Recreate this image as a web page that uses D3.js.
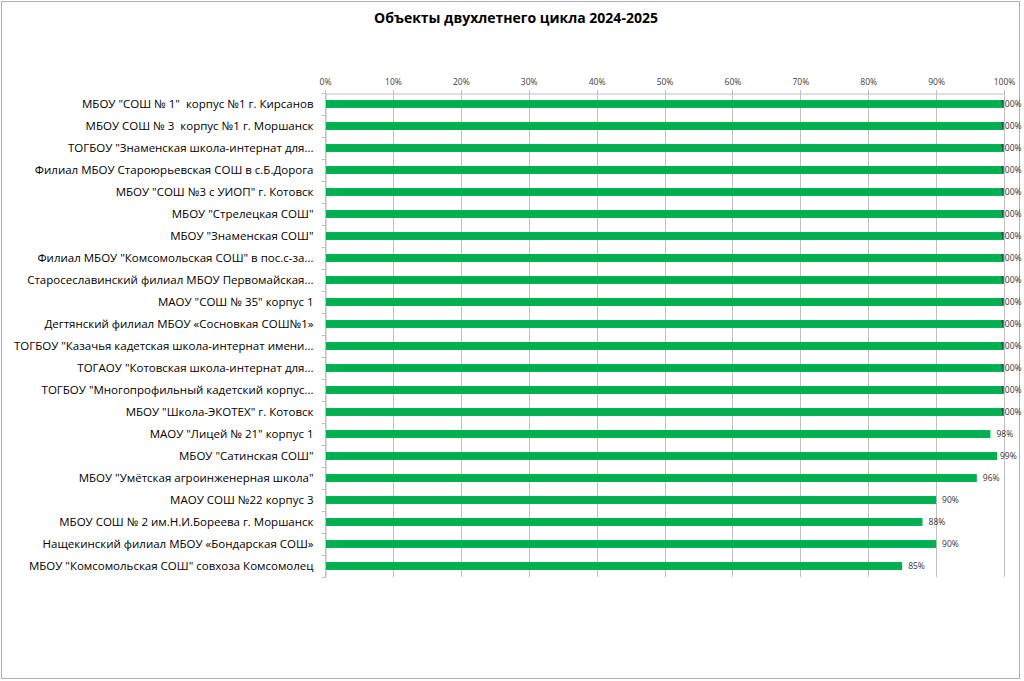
<!DOCTYPE html>
<html>
<head>
<meta charset="utf-8">
<script src="https://cdn.jsdelivr.net/npm/d3@7"></script>
<style>
  html, body { margin: 0; padding: 0; background: #fff; }
  svg { display: block; }
  svg text { white-space: pre; }
</style>
</head>
<body>
<div id="chart"></div>
<script>
// Chart data
const categories = [
    'МБОУ "СОШ № 1"  корпус №1 г. Кирсанов',
    'МБОУ СОШ № 3  корпус №1 г. Моршанск',
    'ТОГБОУ "Знаменская школа-интернат для...',
    'Филиал МБОУ Староюрьевская СОШ в с.Б.Дорога',
    'МБОУ "СОШ №3 с УИОП" г. Котовск',
    'МБОУ "Стрелецкая СОШ"',
    'МБОУ "Знаменская СОШ"',
    'Филиал МБОУ "Комсомольская СОШ" в пос.с-за...',
    'Старосеславинский филиал МБОУ Первомайская...',
    'МАОУ "СОШ № 35" корпус 1',
    'Дегтянский филиал МБОУ «Сосновкая СОШ№1»',
    'ТОГБОУ "Казачья кадетская школа-интернат имени...',
    'ТОГАОУ "Котовская школа-интернат для...',
    'ТОГБОУ "Многопрофильный кадетский корпус...',
    'МБОУ "Школа-ЭКОТЕХ" г. Котовск',
    'МАОУ "Лицей № 21" корпус 1',
    'МБОУ "Сатинская СОШ"',
    'МБОУ "Умётская агроинженерная школа"',
    'МАОУ СОШ №22 корпус 3',
    'МБОУ СОШ № 2 им.Н.И.Бореева г. Моршанск',
    'Нащекинский филиал МБОУ «Бондарская СОШ»',
    'МБОУ "Комсомольская СОШ" совхоза Комсомолец'
];
const values = [1, 1, 1, 1, 1, 1, 1, 1, 1, 1, 1, 1, 1, 1, 1, 0.98, 0.99, 0.96, 0.90, 0.88, 0.90, 0.85];
const xTicks = [0, 0.1, 0.2, 0.3, 0.4, 0.5, 0.6, 0.7, 0.8, 0.9, 1];
const title = 'Объекты двухлетнего цикла 2024-2025';

const W = 1024, H = 681;
const FONT = '"Open Sans", "Noto Sans", sans-serif';
const plot = { left: 325, right: 1004, top: 93, bottom: 577 };
const green = '#00b050';
const gridColor = '#c0c0c0';

const svg = d3.select('#chart').append('svg')
    .attr('width', W)
    .attr('height', H);

// Outer chart border
svg.append('rect')
    .attr('x', 1.5).attr('y', 1.5)
    .attr('width', 1018).attr('height', 677)
    .attr('fill', '#fff')
    .attr('stroke', '#b0b0b0')
    .attr('stroke-width', 1);

svg.append('text')
    .attr('x', 516).attr('y', 23)
    .attr('text-anchor', 'middle')
    .attr('font-family', FONT)
    .attr('font-size', '14px')
    .attr('font-weight', 'bold')
    .attr('fill', '#000')
    .text(title);

const x = d3.scaleLinear()
    .domain([0, 1])
    .range([plot.left, plot.right]);

const y = d3.scaleBand()
    .domain(categories)
    .range([plot.top, plot.bottom])
    .paddingInner(0.64)
    .paddingOuter(0.32);

// Vertical grid lines
svg.append('g')
    .selectAll('line')
    .data(xTicks)
    .enter()
    .append('line')
    .attr('x1', d => Math.round(x(d)) + 0.5)
    .attr('x2', d => Math.round(x(d)) + 0.5)
    .attr('y1', plot.top - 3)
    .attr('y2', plot.bottom)
    .attr('stroke', gridColor)
    .attr('stroke-width', 1);

// Top axis
const xAxis = svg.append('g')
    .attr('transform', `translate(0,${plot.top + 0.5})`)
    .call(d3.axisTop(x).tickValues(xTicks).tickFormat(d3.format('.0%')).tickSize(0).tickPadding(9));
xAxis.select('.domain').attr('stroke', gridColor);
xAxis.selectAll('text')
    .attr('font-family', FONT)
    .attr('font-size', '8.5px')
    .attr('fill', '#404040');

// Left axis: line with ticks between categories, labels right-aligned
const yAxis = svg.append('g')
    .attr('transform', `translate(${plot.left + 0.5},0)`)
    .call(d3.axisLeft(y).tickSize(0).tickPadding(12));
yAxis.select('.domain').attr('stroke', gridColor);
yAxis.selectAll('text')
    .attr('font-family', FONT)
    .attr('font-size', '11.5px')
    .attr('fill', '#000');

const step = y.step();
const bounds = d3.range(categories.length + 1).map(i => plot.top + i * step);
yAxis.append('g')
    .selectAll('line')
    .data(bounds)
    .enter()
    .append('line')
    .attr('x1', -4).attr('x2', 0)
    .attr('y1', d => Math.round(d) + 0.5)
    .attr('y2', d => Math.round(d) + 0.5)
    .attr('stroke', gridColor);

// Bars
svg.append('g')
    .selectAll('rect')
    .data(categories)
    .enter()
    .append('rect')
    .attr('x', x(0) + 1)
    .attr('y', d => y(d))
    .attr('width', (d, i) => x(values[i]) - x(0) - 1)
    .attr('height', y.bandwidth())
    .attr('fill', green);

// Value labels; pushed back inside the chart area when they would overflow
svg.append('g')
    .selectAll('text')
    .data(categories)
    .enter()
    .append('text')
    .attr('x', (d, i) => Math.min(x(values[i]) + 6, 1000))
    .attr('y', d => y(d) + y.bandwidth() / 2)
    .attr('dy', '0.35em')
    .attr('font-family', FONT)
    .attr('font-size', '8.5px')
    .attr('fill', '#333')
    .text((d, i) => d3.format('.0%')(values[i]));
</script>
</body>
</html>
